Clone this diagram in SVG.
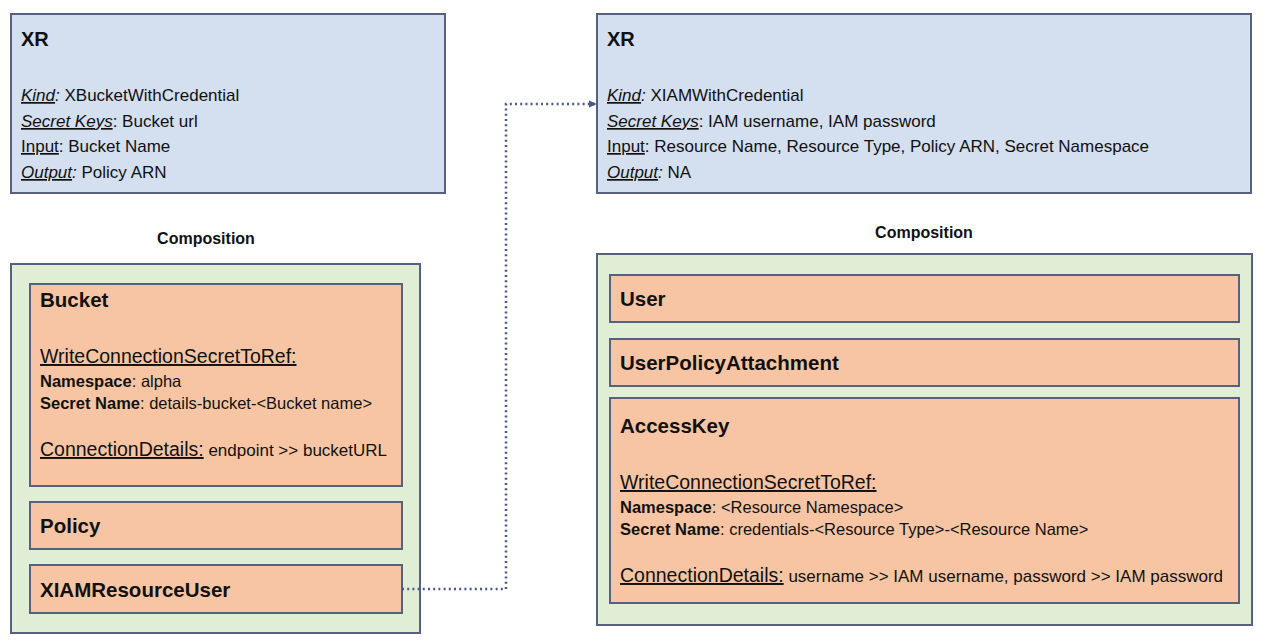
<svg xmlns="http://www.w3.org/2000/svg" width="1264" height="644" viewBox="0 0 1264 644">
<style>
text{font-family:"Liberation Sans",Arial,sans-serif;fill:#111;}
.xr{fill:#d4dfef;stroke:#56617f;stroke-width:2;}
.comp{fill:#e0eed6;stroke:#56617f;stroke-width:2;}
.res{fill:#f7c5a4;stroke:#56617f;stroke-width:2;}
.h1{font-size:20px;font-weight:bold;}
.h2{font-size:20.5px;font-weight:bold;}
.body{font-size:16.5px;}
.xb{font-size:17px;}
.cd{font-size:17px;}
.lbl{font-size:16px;font-weight:bold;}
.u{text-decoration:underline;}
.i{font-style:italic;}
.b{font-weight:bold;}
.big{font-size:19.5px;}
.conn{fill:none;stroke:#4b5a82;stroke-width:2.5;stroke-dasharray:2 3.2;}
</style>
<defs>
<marker id="arrow" markerWidth="8" markerHeight="8" refX="7" refY="4" orient="auto" markerUnits="userSpaceOnUse">
<path d="M0,0.5 L8,4 L0,7.5 Z" fill="#4b5a82"/>
</marker>
</defs>

<g id="xr-bucket">
<rect class="xr" x="11" y="14" width="434" height="179"/>
<text class="h1" x="21" y="46">XR</text>
<text class="xb" x="21" y="101"><tspan class="i u">Kind</tspan><tspan class="i">:</tspan> XBucketWithCredential</text>
<text class="xb" x="21" y="127"><tspan class="i u">Secret Keys</tspan>: Bucket url</text>
<text class="xb" x="21" y="152"><tspan class="u">Input</tspan>: Bucket Name</text>
<text class="xb" x="21" y="178"><tspan class="i u">Output</tspan><tspan class="i">:</tspan> Policy ARN</text>
</g>

<g id="xr-iam">
<rect class="xr" x="597" y="14" width="654" height="179"/>
<text class="h1" x="607" y="46">XR</text>
<text class="xb" x="607" y="101"><tspan class="i u">Kind</tspan><tspan class="i">:</tspan> XIAMWithCredential</text>
<text class="xb" x="607" y="127"><tspan class="i u">Secret Keys</tspan>: IAM username, IAM password</text>
<text class="xb" x="607" y="152"><tspan class="u">Input</tspan>: Resource Name, Resource Type, Policy ARN, Secret Namespace</text>
<text class="xb" x="607" y="178"><tspan class="i u">Output</tspan><tspan class="i">:</tspan> NA</text>
</g>

<g id="composition-bucket">
<text class="lbl" x="206" y="244" text-anchor="middle">Composition</text>
<rect class="comp" x="11" y="264" width="409" height="369"/>
</g>

<g id="bucket">
<rect class="res" x="30" y="284" width="372" height="202"/>
<text class="h2" x="40" y="307">Bucket</text>
<text class="big u" x="40" y="363">WriteConnectionSecretToRef:</text>
<text class="body" x="40" y="387"><tspan class="b">Namespace</tspan>: alpha</text>
<text class="body" x="40" y="409"><tspan class="b">Secret Name</tspan>: details-bucket-&lt;Bucket name&gt;</text>
<text class="cd" x="40" y="456"><tspan class="big u">ConnectionDetails:</tspan> endpoint &gt;&gt; bucketURL</text>
</g>

<g id="policy">
<rect class="res" x="30" y="502" width="372" height="47"/>
<text class="h2" x="40" y="533">Policy</text>
</g>

<g id="xiam-resource-user">
<rect class="res" x="30" y="565" width="372" height="48"/>
<text class="h2" x="40" y="597">XIAMResourceUser</text>
</g>

<g id="composition-iam">
<text class="lbl" x="924" y="238" text-anchor="middle">Composition</text>
<rect class="comp" x="597" y="254" width="655" height="371"/>
</g>

<g id="user">
<rect class="res" x="610" y="275" width="629" height="47"/>
<text class="h2" x="620" y="306">User</text>
</g>

<g id="user-policy-attachment">
<rect class="res" x="610" y="339" width="629" height="47"/>
<text class="h2" x="620" y="370">UserPolicyAttachment</text>
</g>

<g id="access-key">
<rect class="res" x="610" y="398" width="629" height="205"/>
<text class="h2" x="620" y="433">AccessKey</text>
<text class="big u" x="620" y="489">WriteConnectionSecretToRef:</text>
<text class="body" x="620" y="513"><tspan class="b">Namespace</tspan>: &lt;Resource Namespace&gt;</text>
<text class="body" x="620" y="535"><tspan class="b">Secret Name</tspan>: credentials-&lt;Resource Type&gt;-&lt;Resource Name&gt;</text>
<text class="cd" x="620" y="582"><tspan class="big u">ConnectionDetails:</tspan> username &gt;&gt; IAM username, password &gt;&gt; IAM password</text>
</g>

<g id="connectors">
<path class="conn" d="M402,589 L506,589 L506,104 L596,104" marker-end="url(#arrow)"/>
</g>
</svg>
